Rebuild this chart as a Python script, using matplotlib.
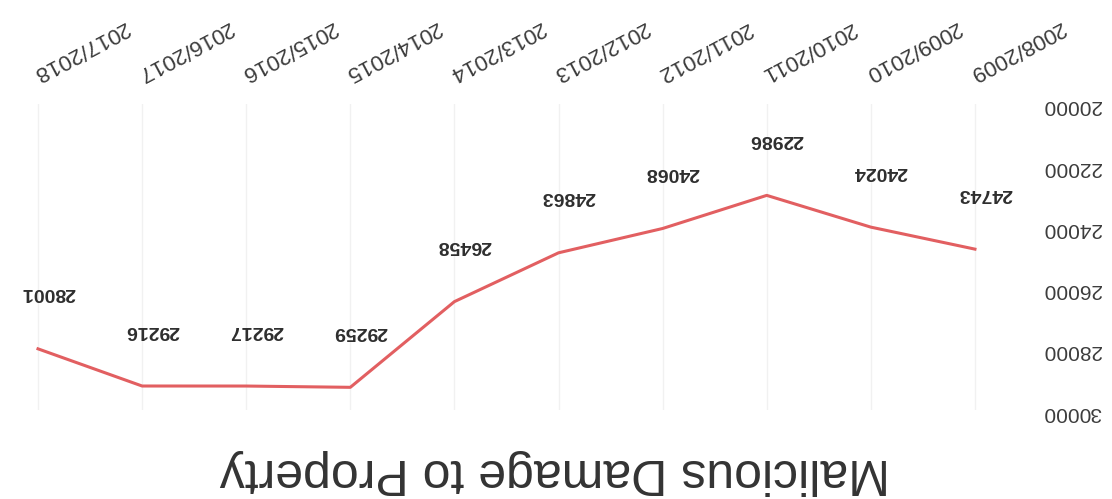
import matplotlib.pyplot as plt

# Data (the reference is a scan turned upside down, so the chart is drawn rotated 180 degrees)
seasons = ['2008/2009', '2009/2010', '2010/2011', '2011/2012', '2012/2013',
           '2013/2014', '2014/2015', '2015/2016', '2016/2017', '2017/2018']
cases = [24743, 24024, 22986, 24068, 24863, 26458, 29259, 29217, 29216, 28001]
y_ticks = [20000, 22000, 24000, 26000, 28000, 30000]
title = 'Malicious Damage to Property'

plt.rcParams['font.family'] = ['Liberation Sans', 'DejaVu Sans']

W, H = 1112, 499
fig = plt.figure(figsize=(W / 100, H / 100), dpi=100)
fig.patch.set_facecolor('white')

# plot area in pixels: x 0..1027, y 104..410 (top = 20000, bottom = 30000)
ax = fig.add_axes([0, 1 - 410 / H, 1027 / W, (410 - 104) / H])

x = list(range(len(seasons)))
ax.plot(x, cases, color='#e25f61', lw=2.2, solid_joinstyle='round')

# value labels, upside down
for xi, v in zip(x, cases):
    ax.annotate(str(v), (xi, v), xytext=(10, 56), textcoords='offset pixels',
                ha='center', va='center', rotation=180, fontsize=14,
                fontweight='bold', color='#2e2e2e')

ax.set_xlim(9.365, -0.5)
ax.set_ylim(30000, 20000)

ax.xaxis.tick_top()
ax.set_xticks(x)
ax.set_xticklabels(seasons, rotation=208, ha='right', va='top',
                   rotation_mode='anchor', fontsize=16, color='#3c3c3c')
ax.tick_params(axis='x', length=0, pad=14)

ax.yaxis.tick_right()
ax.set_yticks(y_ticks)
ax.set_yticklabels([str(t) for t in y_ticks], rotation=180)
ax.tick_params(axis='y', length=0, pad=11, labelsize=15, labelcolor='#3c3c3c')

ax.grid(axis='x', color='#f1f1f1', lw=1)
ax.grid(axis='y', visible=False)
for s in ax.spines.values():
    s.set_visible(False)

fig.text(555 / W, 1 - 472 / H, title, rotation=180, ha='center', va='center',
         fontsize=36, color='#333333')

fig.savefig('out.png', dpi=100)
